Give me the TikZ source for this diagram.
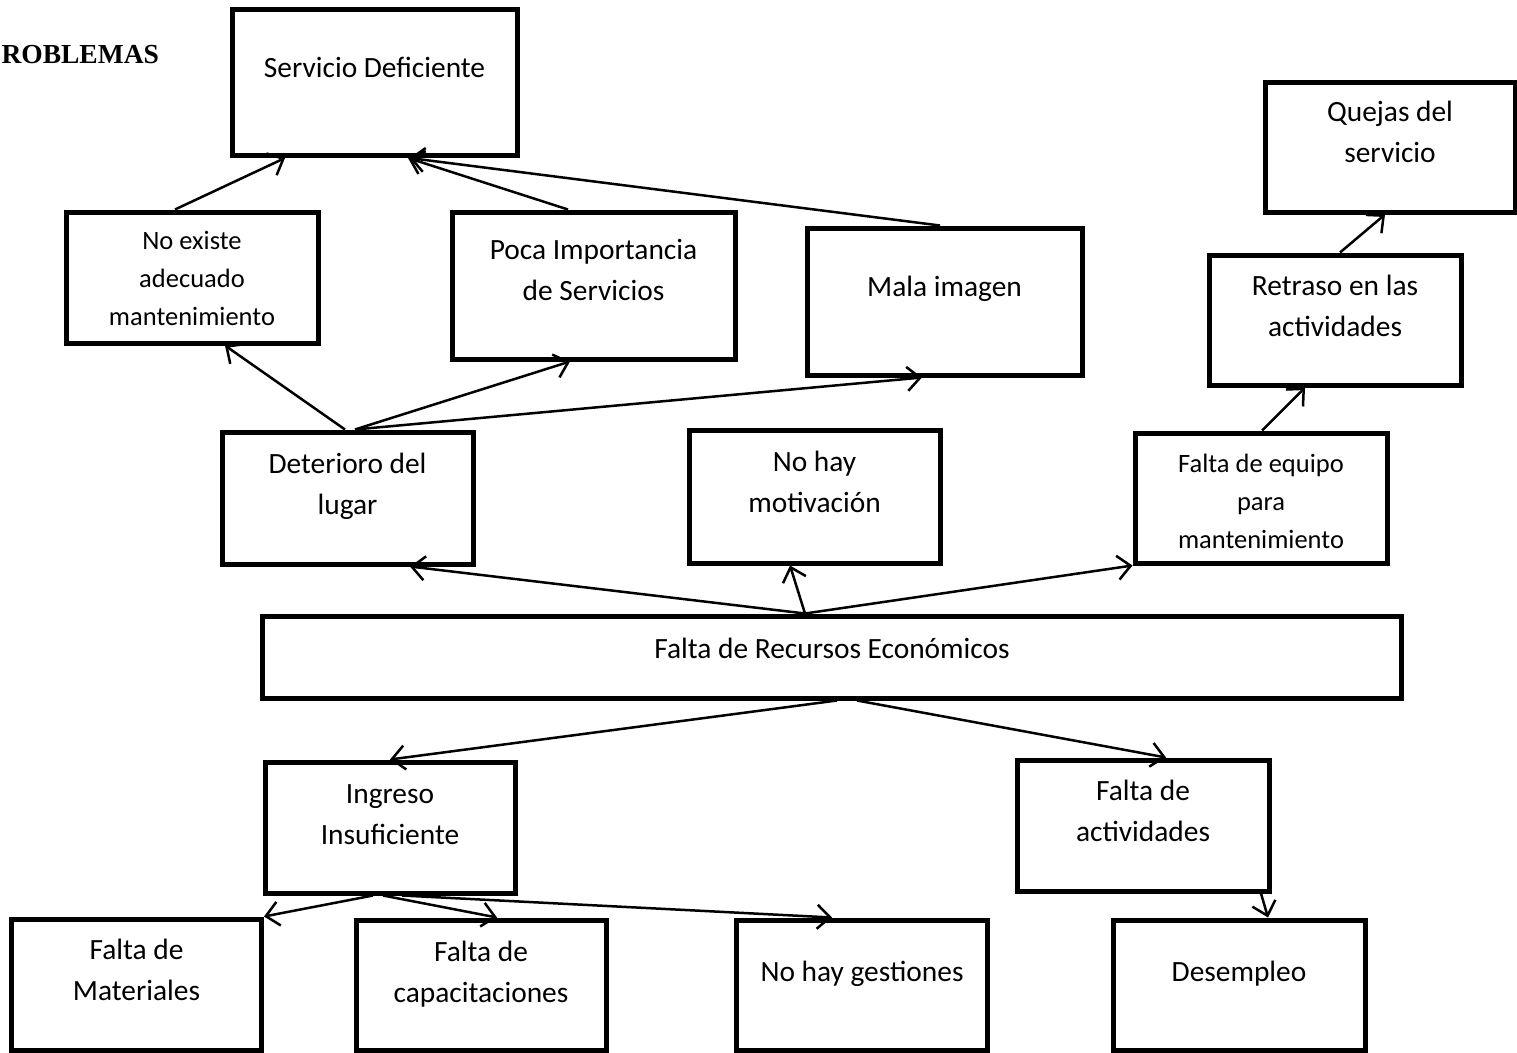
\documentclass[tikz,border=0pt]{standalone}
\usepackage{fontspec}
\setmainfont{Carlito}
\newfontfamily\titulofont{Liberation Serif}
\usetikzlibrary{arrows.meta, positioning}
\tikzset{
  caja/.style={draw, line width=5pt, minimum width=252pt, minimum height=131pt, inner sep=0pt},
  texto/.style={anchor=north, inner sep=0pt, align=center, font=\fontsize{29.4}{41}\selectfont},
  chico/.style={texto, font=\fontsize{26.5}{38}\selectfont},
  flecha/.style={-{Straight Barb[length=13pt,width=24pt]}, line width=2.5pt}
}
\begin{document}
\begin{tikzpicture}[x=1pt, y=-1pt]
\useasboundingbox (0,0) rectangle (1517,1052);
\node[anchor=base west, font=\titulofont\bfseries\fontsize{27.5}{30}\selectfont] (titulo) at (-2,63) {ROBLEMAS};

\node[caja, minimum width=285pt, minimum height=146pt, label={[texto, yshift=-42pt]north:{\strut Servicio Deficiente}}] (servicio) at (374.5,82.5) {};
\node[caja, minimum width=250pt, minimum height=130pt, label={[texto, yshift=-13pt]north:{\strut Quejas del\\servicio}}] (quejas) at (1390,147) {};
\node[caja, label={[chico, yshift=-13pt]north:{\strut No existe\\adecuado\\mantenimiento}}] (noexiste) at (192,277.5) {};
\node[caja, minimum width=283pt, minimum height=147pt, label={[texto, yshift=-21pt]north:{\strut Poca Importancia\\de Servicios}}] (poca) at (593.5,285.5) {};
\node[caja, minimum width=275pt, minimum height=147pt, label={[texto, yshift=-42pt]north:{\strut Mala imagen}}] (mala) at (944.5,301.5) {};
\node[caja, minimum height=130pt, label={[texto, yshift=-14pt]north:{\strut Retraso en las\\actividades}}] (retraso) at (1335,320) {};

\node[caja, minimum width=251pt, minimum height=132pt, label={[texto, yshift=-15pt]north:{\strut Deterioro del\\lugar}}] (deterioro) at (347.5,498) {};
\node[caja, minimum width=251pt, minimum height=133pt, label={[texto, yshift=-15pt]north:{\strut No hay\\motivación}}] (motivacion) at (814.5,496.5) {};
\node[caja, minimum height=130pt, label={[chico, yshift=-15pt]north:{\strut Falta de equipo\\para\\mantenimiento}}] (equipo) at (1261,498) {};

\node[caja, minimum width=1139pt, minimum height=82pt, label={[texto, yshift=-16pt]north:{\strut Falta de Recursos Económicos}}] (recursos) at (832,657) {};

\node[caja, minimum width=250pt, label={[texto, yshift=-15pt]north:{\strut Ingreso\\Insuficiente}}] (ingreso) at (390,827.5) {};
\node[caja, label={[texto, yshift=-14pt]north:{\strut Falta de\\actividades}}] (actividades) at (1143,825.5) {};

\node[caja, minimum width=250pt, label={[texto, yshift=-14pt]north:{\strut Falta de\\Materiales}}] (materiales) at (136.5,984.5) {};
\node[caja, minimum width=250pt, minimum height=130pt, label={[texto, yshift=-15pt]north:{\strut Falta de\\capacitaciones}}] (capacitaciones) at (481,985) {};
\node[caja, minimum width=251pt, minimum height=130pt, label={[texto, yshift=-35pt]north:{\strut No hay gestiones}}] (gestiones) at (862,985) {};
\node[caja, minimum height=130pt, label={[texto, yshift=-35pt]north:{\strut Desempleo}}] (desempleo) at (1239,985) {};

\draw[flecha] ([xshift=-17pt]noexiste.north) -- ([xshift=-89.5pt]servicio.south);
\draw[flecha] ([xshift=-25.5pt]poca.north) -- ([xshift=33.5pt]servicio.south);
\draw[flecha] ([xshift=-4.5pt]mala.north) -- ([xshift=35pt]servicio.south);
\draw[flecha] ([xshift=5pt]retraso.north) -- ([xshift=-5pt]quejas.south);
\draw[flecha] ([xshift=-2.5pt]deterioro.north) -- ([xshift=33pt]noexiste.south);
\draw[flecha] ([xshift=7.5pt]deterioro.north) -- ([xshift=-23.5pt]poca.south);
\draw[flecha] ([xshift=7.5pt]deterioro.north) -- ([xshift=-22.5pt]mala.south);
\draw[flecha] ([xshift=1pt]equipo.north) -- ([xshift=-30pt]retraso.south);
\draw[flecha] ([xshift=-27pt]recursos.north) -- ([xshift=62.5pt]deterioro.south);
\draw[flecha] ([xshift=-27pt]recursos.north) -- ([xshift=-24.5pt]motivacion.south);
\draw[flecha] ([xshift=-27pt]recursos.north) -- (equipo.south west);
\draw[flecha] ([xshift=5pt]recursos.south) -- (ingreso.north);
\draw[flecha] ([xshift=25pt]recursos.south) -- ([xshift=23pt]actividades.north);
\draw[flecha] ([xshift=-17pt]ingreso.south) -- (materiales.north east);
\draw[flecha] ([xshift=-7pt]ingreso.south) -- ([xshift=16pt]capacitaciones.north);
\draw[flecha] ([xshift=12pt]ingreso.south) -- ([xshift=-30pt]gestiones.north);
\draw[flecha] ([xshift=118pt]actividades.south) -- ([xshift=29pt]desempleo.north);
\end{tikzpicture}
\end{document}
